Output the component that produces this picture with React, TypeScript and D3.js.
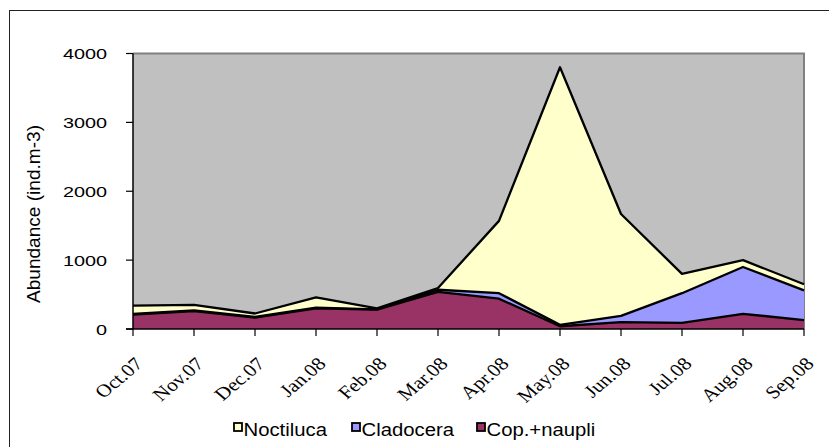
import React from "react";
import * as d3 from "d3";

const months = ["Oct.07", "Nov.07", "Dec.07", "Jan.08", "Feb.08", "Mar.08", "Apr.08", "May.08", "Jun.08", "Jul.08", "Aug.08", "Sep.08"];
const copNaupli = [210, 260, 165, 300, 280, 540, 440, 40, 100, 90, 220, 130];
const cladocera = [10, 10, 10, 10, 5, 30, 80, 20, 90, 430, 680, 430];
const noctiluca = [120, 80, 50, 150, 15, 25, 1050, 3740, 1480, 280, 100, 90];
const yTicks = [0, 1000, 2000, 3000, 4000];

const seriesKeys = ["cop", "clad", "noct"];
const seriesNames: Record<string, string> = { noct: "Noctiluca", clad: "Cladocera", cop: "Cop.+naupli" };
const seriesColors: Record<string, string> = { noct: "#FFFFCC", clad: "#9999FF", cop: "#993366" };
const legendOrder = ["noct", "clad", "cop"];

export default function App() {
  const W = 829, H = 447;
  const left = 133, right = 804, top = 53.5, bottom = 329;
  const x = d3.scalePoint<string>().domain(months).range([left, right]);
  const y = d3.scaleLinear().domain([0, 4000]).range([bottom, top]);

  const rows = months.map((m, i) => ({ m, cop: copNaupli[i], clad: cladocera[i], noct: noctiluca[i] }));
  const stacked = d3.stack<any>().keys(seriesKeys)(rows);

  const area = d3.area<any>()
    .x((d) => x(d.data.m) as number)
    .y0((d) => y(d[0]))
    .y1((d) => y(d[1]));
  const line = d3.line<any>()
    .x((d) => x(d.data.m) as number)
    .y((d) => y(d[1]));

  const legendX = [234, 352, 477];

  return (
    <svg width={W} height={H} style={{ position: "fixed", left: 0, top: 0, display: "block", background: "#fff" }}>
      {/* outer frame */}
      <rect x={9.5} y={10.5} width={840} height={460} fill="#fff" stroke="#222" strokeWidth={1} />
      {/* plot area */}
      <rect x={left} y={top} width={right - left} height={bottom - top} fill="#C0C0C0" />
      <path d={`M${left},${top}H${right}V${bottom}`} fill="none" stroke="#808080" strokeWidth={2} />
      {stacked.map((s) => (
        <path key={s.key} d={area(s) as string} fill={seriesColors[s.key]} />
      ))}
      {stacked.map((s) => (
        <path key={s.key + "l"} d={line(s) as string} fill="none" stroke="#000" strokeWidth={2.3} strokeLinejoin="round" />
      ))}
      {/* y axis */}
      <line x1={left} x2={left} y1={top} y2={bottom} stroke="#000" strokeWidth={1.5} />
      {yTicks.map((t) => (
        <g key={t}>
          <line x1={left - 7} x2={left} y1={y(t)} y2={y(t)} stroke="#000" strokeWidth={1.2} />
          <g transform={`translate(107,${y(t)}) scale(1.28,1)`}>
            <text x={0} y={0} dy="0.36em" textAnchor="end" fontFamily="Arial, 'Liberation Sans', sans-serif" fontSize={15.5} fill="#000">{t}</text>
          </g>
        </g>
      ))}
      <g transform={`translate(39.5,214) rotate(-90)`}>
        <text x={0} y={0} textAnchor="middle" fontFamily="Arial, 'Liberation Sans', sans-serif" fontSize={17.5} fill="#000" textLength={178} lengthAdjust="spacingAndGlyphs">Abundance (ind.m-3)</text>
      </g>
      {/* x axis */}
      <line x1={left - 7} x2={right} y1={bottom} y2={bottom} stroke="#000" strokeWidth={1.5} />
      {months.map((m) => (
        <g key={m}>
          <line x1={x(m)} x2={x(m)} y1={bottom} y2={bottom + 7} stroke="#000" strokeWidth={1.2} />
          <g transform={`translate(${(x(m) as number) + 11},365) scale(1.18,1) rotate(-45)`}>
            <text x={0} y={0} textAnchor="end" fontFamily="'Times New Roman', 'Liberation Serif', serif" fontSize={18} fill="#000">{m}</text>
          </g>
        </g>
      ))}
      {/* legend */}
      {legendOrder.map((k, i) => (
        <g key={k}>
          <rect x={legendX[i]} y={423} width={8} height={8} fill={seriesColors[k]} stroke="#000" strokeWidth={1.8} />
          <g transform={`translate(${legendX[i] + 9.5},435.5) scale(1.16,1)`}>
            <text x={0} y={0} fontFamily="Arial, 'Liberation Sans', sans-serif" fontSize={17.5} fill="#000">{seriesNames[k]}</text>
          </g>
        </g>
      ))}
    </svg>
  );
}
